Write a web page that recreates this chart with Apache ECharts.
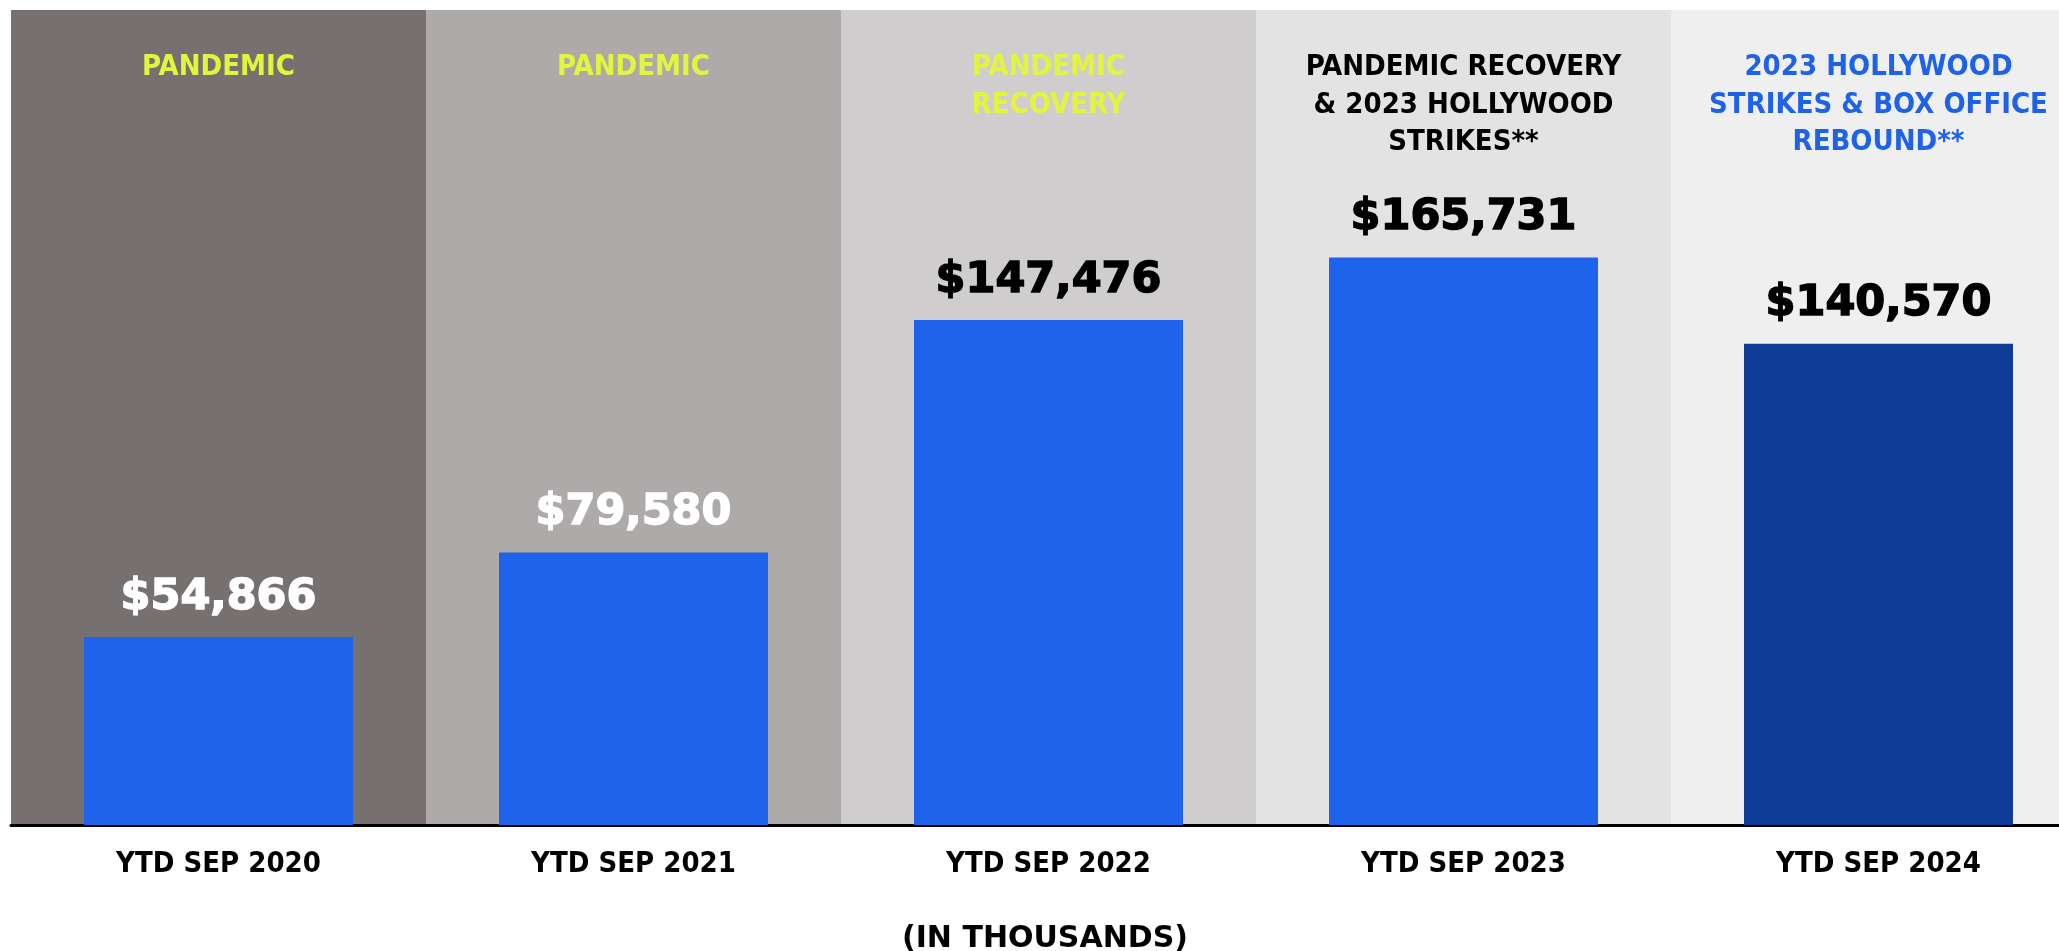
<!DOCTYPE html>
<html>
<head>
<meta charset="utf-8">
<title>YTD Sep box office</title>
<script src="https://cdn.jsdelivr.net/npm/echarts@6/dist/echarts.min.js"></script>
<style>
  html, body { margin: 0; padding: 0; overflow: hidden; background: #fff; }
  #chart { width: 2086px; height: 951px; }
</style>
</head>
<body>
<div id="chart"></div>
<script>
// 数据
const categories = ['YTD SEP 2020', 'YTD SEP 2021', 'YTD SEP 2022', 'YTD SEP 2023', 'YTD SEP 2024']
const revenue = [54866, 79580, 147476, 165731, 140570] // in thousands
const periods = [
  'PANDEMIC',
  'PANDEMIC',
  'PANDEMIC\nRECOVERY',
  'PANDEMIC RECOVERY\n& 2023 HOLLYWOOD\nSTRIKES**',
  '2023 HOLLYWOOD\nSTRIKES & BOX OFFICE\nREBOUND**'
]

// 样式
const bandColors = ['#767170', '#aeaaa9', '#d0cdce', '#e3e3e3', '#efefef']
const periodColors = ['#e2f53e', '#e2f53e', '#e2f53e', '#000000', '#1e62e8']
const valueColors = ['#ffffff', '#ffffff', '#000000', '#000000', '#000000']
const barColors = ['#1e63e9', '#1e63e9', '#1e63e9', '#1e63e9', '#0f3c96']

const headFont = '"DejaVu Sans Condensed", "Liberation Sans", sans-serif'

const mChart = echarts.init(document.getElementById('chart'))

const options = {
  animation: false,
  title: {
    text: '(IN THOUSANDS)',
    left: 1040,
    top: 919,
    textAlign: 'center',
    textStyle: {
      fontFamily: '"DejaVu Sans", sans-serif',
      fontWeight: 'bold',
      fontSize: 30,
      color: '#000'
    }
  },
  grid: {
    top: 10,
    left: 11,
    right: 0,
    bottom: 126
  },
  xAxis: [
    {
      type: 'category',
      data: categories,
      axisLine: { lineStyle: { color: '#000', width: 3 } },
      axisTick: { show: false },
      axisLabel: {
        margin: 25,
        color: '#000',
        fontFamily: headFont,
        fontWeight: 'bold',
        fontSize: 29
      },
      splitArea: {
        show: true,
        interval: 0,
        areaStyle: { color: bandColors }
      }
    },
    {
      // 顶部时期说明
      type: 'category',
      position: 'top',
      data: periods,
      z: 10,
      axisLine: { show: false },
      axisTick: { show: false },
      axisLabel: {
        inside: true,
        margin: 39,
        interval: 0,
        fontFamily: headFont,
        fontWeight: 'bold',
        fontSize: 29,
        lineHeight: 37.5,
        align: 'center',
        color: (value, index) => periodColors[index]
      }
    }
  ],
  yAxis: {
    type: 'value',
    min: 0,
    max: 238000,
    show: false,
    splitLine: { show: false }
  },
  series: [
    {
      type: 'bar',
      barWidth: 269,
      data: revenue.map((v, i) => ({
        value: v,
        itemStyle: { color: barColors[i] },
        label: { color: valueColors[i], textBorderColor: valueColors[i] }
      })),
      label: {
        show: true,
        position: 'top',
        distance: 18,
        fontFamily: '"DejaVu Sans", sans-serif',
        fontWeight: 'bold',
        fontSize: 43,
        textBorderWidth: 1.5,
        formatter: p => '$' + p.value.toLocaleString('en-US')
      }
    }
  ]
}

mChart.setOption(options)
</script>
</body>
</html>
